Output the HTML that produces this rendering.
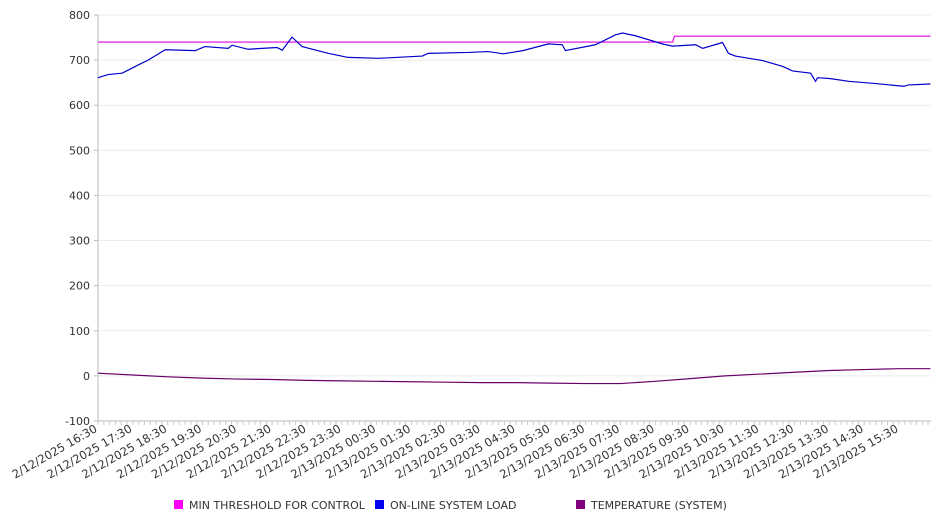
<!DOCTYPE html>
<html><head><meta charset="utf-8"><style>
body{margin:0;background:#fff;}
svg{display:block;font-family:"DejaVu Sans","Liberation Sans",sans-serif;}
</style></head><body>
<svg width="946" height="526" id="chart">
<g id="grid"></g>
<g id="axes"></g>
<g id="series"></g>
<g id="legend"></g>
</svg>
<script>
const xTickLabels=["2/12/2025 16:30","2/12/2025 17:30","2/12/2025 18:30","2/12/2025 19:30","2/12/2025 20:30","2/12/2025 21:30","2/12/2025 22:30","2/12/2025 23:30","2/13/2025 00:30","2/13/2025 01:30","2/13/2025 02:30","2/13/2025 03:30","2/13/2025 04:30","2/13/2025 05:30","2/13/2025 06:30","2/13/2025 07:30","2/13/2025 08:30","2/13/2025 09:30","2/13/2025 10:30","2/13/2025 11:30","2/13/2025 12:30","2/13/2025 13:30","2/13/2025 14:30","2/13/2025 15:30"];
const yTicks=[-100,0,100,200,300,400,500,600,700,800];
// hours since 2/12 16:30
const loadHours=[0,0.29,0.69,1.15,1.44,1.93,2.79,3.07,3.74,3.85,4.31,4.71,5.14,5.29,5.57,5.86,6.61,7.18,8.05,9.31,9.48,10.63,11.2,11.64,12.2,12.93,13.33,13.42,14.28,14.86,15.06,15.43,16.2,16.49,17.16,17.36,17.93,18.1,18.3,19.08,19.66,19.94,20.46,20.6,20.66,21.03,21.55,22.33,23.13,23.27,23.9];
const loadValues=[661,668,671,689,700,723,721,730,726,733,724,726,728,722,751,730,715,706,704,709,715,717,719,714,721,736,734,721,734,756,760,754,736,731,734,726,739,715,709,699,686,676,671,653,661,659,653,648,642,645,647];
const thrHours=[0,16.5,16.55,23.9];
const thrValues=[740,740,753,753];
const tempHours=[0,1,2,3,4,5,6,7,8,9,10,11,12,13,14,15,16,17,18,19,20,21,22,23,23.9];
const tempValues=[6,2,-2,-5,-7,-8,-10,-11,-12,-13,-14,-15,-15,-16,-17,-17,-12,-6,0,4,8,12,14,16,16];
const L=98,R=931,T=15,B=421,ymin=-100,ymax=800,pxPerHour=34.83;
const NS="http://www.w3.org/2000/svg";
function X(h){return L+h*pxPerHour;}
function Y(v){return B-(v-ymin)/(ymax-ymin)*(B-T);}
function mk(tag,attrs,parent){const e=document.createElementNS(NS,tag);for(const k in attrs)e.setAttribute(k,attrs[k]);parent.appendChild(e);return e;}
const grid=document.getElementById('grid'),axes=document.getElementById('axes'),series=document.getElementById('series'),legend=document.getElementById('legend');
yTicks.forEach(v=>{
 const gl=mk('line',{x1:L,x2:R,y1:Y(v),y2:Y(v),stroke:'#ebebeb','stroke-width':1},grid);
 
 
 const t=mk('text',{x:90,y:Y(v)+4,'text-anchor':'end','font-size':11,fill:'#333'},axes);
 t.textContent=v;
 
 
 mk('line',{x1:94,x2:98,y1:Y(v),y2:Y(v),stroke:'#bbb'},axes);
});
const ya=mk('line',{x1:L,x2:L,y1:T,y2:B,stroke:'#bbb'},axes);


const xa=mk('line',{x1:L,x2:R,y1:B,y2:B,stroke:'#bbb'},axes);


for(let h=0;h<=23.9;h+=1/6){mk('line',{x1:X(h),x2:X(h),y1:B,y2:B+4,stroke:'#ccc'},axes);}
xTickLabels.forEach((s,i)=>{
 const x=X(i),y=B+10;
 const t=mk('text',{x:x,y:y,'text-anchor':'end','font-size':11.5,fill:'#333',transform:`rotate(-30 ${x} ${y})`},axes);
 t.textContent=s;
 
 
});
function line(hs,vs,color,name){
 const p=mk('polyline',{points:hs.map((h,i)=>X(h)+','+Y(vs[i])).join(' '),fill:'none',stroke:color,'stroke-width':1.2},series);
 
 
}
line(thrHours,thrValues,'#e000e0','min-threshold-line');
line(loadHours,loadValues,'#0000cc','system-load-line');
line(tempHours,tempValues,'#6a006a','temperature-line');
[["MIN THRESHOLD FOR CONTROL","#ff00ff",174],["ON-LINE SYSTEM LOAD","#0000ee",375],["TEMPERATURE (SYSTEM)","#800080",576]].forEach(([lab,c,x])=>{
 const g=mk('g',{},legend);
 
 
 mk('rect',{x:x,y:500,width:9,height:9,fill:c},g);
 const t=mk('text',{x:x+15,y:509,'font-size':11,fill:'#333'},g);
 t.textContent=lab;
});
</script>
</body></html>
